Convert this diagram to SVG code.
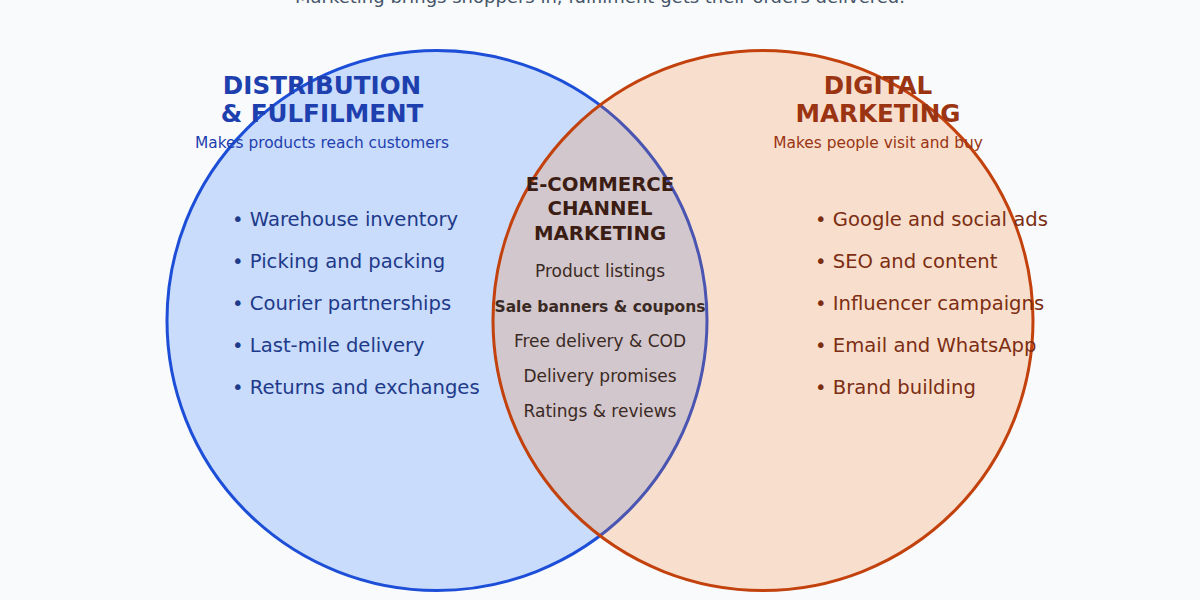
<svg xmlns="http://www.w3.org/2000/svg" width="1200" height="600" viewBox="0 0 1200 600">
<style>
text{font-family:"DejaVu Sans","Liberation Sans",sans-serif}
.sub{font-size:18px;fill:#475569;text-anchor:middle}
.title{font-size:24.6px;font-weight:bold;text-anchor:middle}
.tag{font-size:15.4px;text-anchor:middle}
.item{font-size:19.6px}
.blue .title{fill:#1e40af}
.blue .tag{fill:#1e40af}
.blue .item{fill:#1e3a8a}
.orange .title{fill:#9a3412}
.orange .tag{fill:#9a3412}
.orange .item{fill:#7c2d12}
.mid .title{font-size:19.7px;fill:#3b1d14}
.mid .c{font-size:17px;fill:#3b2a24;text-anchor:middle}
.mid .b{font-weight:bold;font-size:15.5px}
</style>
<rect width="1200" height="600" fill="#f8fafc"/>
<text class="sub" x="600" y="3">Marketing brings shoppers in, fulfilment gets their orders delivered.</text>
<g id="circles">
<circle id="circle-distribution" cx="437" cy="320.5" r="270" fill="#3b82f6" fill-opacity="0.25" stroke="#1d4ed8" stroke-width="3"/>
<circle id="circle-marketing" cx="763" cy="320.5" r="270" fill="#f97316" fill-opacity="0.2" stroke="#c2410c" stroke-width="3"/>
</g>
<g id="distribution" class="blue">
<text class="title" x="322" y="94">DISTRIBUTION</text>
<text class="title" x="322" y="122">&amp; FULFILMENT</text>
<text class="tag" x="322" y="148">Makes products reach customers</text>
<text class="item" x="232" y="226">• Warehouse inventory</text>
<text class="item" x="232" y="268">• Picking and packing</text>
<text class="item" x="232" y="310">• Courier partnerships</text>
<text class="item" x="232" y="352">• Last-mile delivery</text>
<text class="item" x="232" y="394">• Returns and exchanges</text>
</g>
<g id="marketing" class="orange">
<text class="title" x="878" y="94">DIGITAL</text>
<text class="title" x="878" y="122">MARKETING</text>
<text class="tag" x="878" y="148">Makes people visit and buy</text>
<text class="item" x="815" y="226">• Google and social ads</text>
<text class="item" x="815" y="268">• SEO and content</text>
<text class="item" x="815" y="310">• Influencer campaigns</text>
<text class="item" x="815" y="352">• Email and WhatsApp</text>
<text class="item" x="815" y="394">• Brand building</text>
</g>
<g id="ecommerce" class="mid">
<text class="title" x="600" y="191">E-COMMERCE</text>
<text class="title" x="600" y="215">CHANNEL</text>
<text class="title" x="600" y="240">MARKETING</text>
<text class="c" x="600" y="277">Product listings</text>
<text class="c b" x="600" y="312">Sale banners &amp; coupons</text>
<text class="c" x="600" y="347">Free delivery &amp; COD</text>
<text class="c" x="600" y="382">Delivery promises</text>
<text class="c" x="600" y="417">Ratings &amp; reviews</text>
</g>
</svg>
